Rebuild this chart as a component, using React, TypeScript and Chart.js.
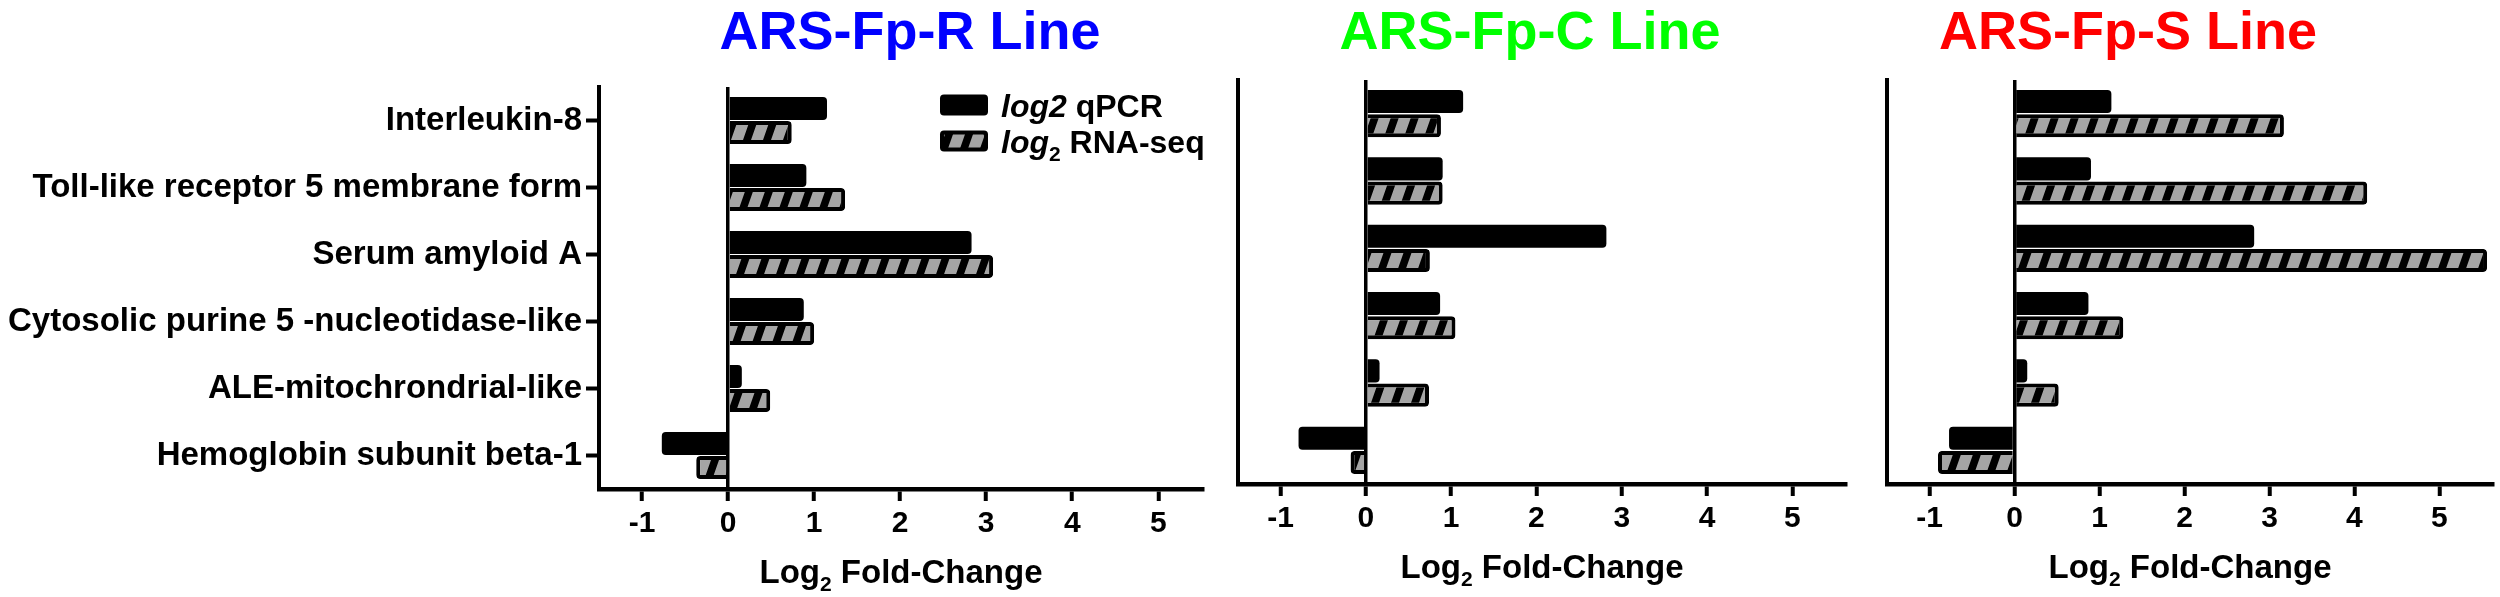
import React, { useEffect, useRef } from "react";
import { Chart, registerables } from "chart.js";

Chart.register(...registerables);

// ---------------- data ----------------
const categories = [
  "Interleukin-8",
  "Toll-like receptor 5 membrane form",
  "Serum amyloid A",
  "Cytosolic purine 5 -nucleotidase-like",
  "ALE-mitochrondrial-like",
  "Hemoglobin subunit beta-1",
];
const seriesNames = ["qPCR", "RNA-seq"];
const panelTitles = ["ARS-Fp-R Line", "ARS-Fp-C Line", "ARS-Fp-S Line"];
const titleColors = ["#0000ff", "#00ff00", "#ff0000"];
const qpcrR = [1.15, 0.91, 2.83, 0.88, 0.16, -0.77];
const qpcrC = [1.14, 0.9, 2.82, 0.87, 0.16, -0.79];
const qpcrS = [1.14, 0.9, 2.82, 0.87, 0.15, -0.77];
const rnaSeqR = [0.74, 1.36, 3.08, 1.0, 0.49, -0.37];
const rnaSeqC = [0.88, 0.9, 0.75, 1.05, 0.74, -0.18];
const rnaSeqS = [3.17, 4.15, 5.56, 1.28, 0.52, -0.9];
const xTickStep = 1;
const xMin = -1.5;

// ---------------- layout / style ----------------
const FONT = "'Liberation Sans', Arial, Helvetica, sans-serif";
const H = 597;

type PanelCfg = {
  left: number;
  width: number;
  areaLeft: number;
  areaRight: number;
  areaTop: number;
  areaBottom: number;
  xMax: number;
  titleX: number;
  labels: boolean;
  legend: boolean;
  qpcr: number[];
  rna: number[];
  idx: number;
};

const PANELS: PanelCfg[] = [
  { left: 0, width: 1220, areaLeft: 599, areaRight: 1203, areaTop: 87, areaBottom: 489, xMax: 5.52, titleX: 910, labels: true, legend: true, qpcr: qpcrR, rna: rnaSeqR, idx: 0 },
  { left: 1220, width: 640, areaLeft: 1238, areaRight: 1846, areaTop: 80, areaBottom: 484, xMax: 5.63, titleX: 1530, labels: false, legend: false, qpcr: qpcrC, rna: rnaSeqC, idx: 1 },
  { left: 1860, width: 640, areaLeft: 1887, areaRight: 2493, areaTop: 80, areaBottom: 484, xMax: 5.63, titleX: 2128, labels: false, legend: false, qpcr: qpcrS, rna: rnaSeqS, idx: 2 },
];

function makeHatch(ctx: CanvasRenderingContext2D): CanvasPattern | string {
  const tile = document.createElement("canvas");
  tile.width = 20;
  tile.height = 20;
  const t = tile.getContext("2d")!;
  t.fillStyle = "#000";
  t.fillRect(0, 0, 20, 20);
  t.fillStyle = "#a5a5a5";
  t.fillRect(0, 0, 12, 20);
  const pat = ctx.createPattern(tile, "repeat");
  if (!pat) return "#a5a5a5";
  try {
    pat.setTransform(new DOMMatrix([1, 0, -0.35, 1, 0, 0]));
  } catch (e) {}
  return pat;
}

type Part = { text: string; font: string; dy?: number };

function drawRich(ctx: CanvasRenderingContext2D, parts: Part[], x: number, baseline: number, align: "left" | "center") {
  let total = 0;
  for (const p of parts) {
    ctx.font = p.font;
    total += ctx.measureText(p.text).width;
  }
  let cx = align === "center" ? x - total / 2 : x;
  ctx.textAlign = "left";
  ctx.textBaseline = "alphabetic";
  for (const p of parts) {
    ctx.font = p.font;
    ctx.fillText(p.text, cx, baseline + (p.dy || 0));
    cx += ctx.measureText(p.text).width;
  }
}

const extrasPlugin = {
  id: "panelExtras",
  afterDraw(chart: any) {
    const o = chart.options.plugins.panelExtras;
    if (!o) return;
    const ctx: CanvasRenderingContext2D = chart.ctx;
    const area = chart.chartArea;
    ctx.save();
    // panel title
    ctx.fillStyle = o.titleColor;
    drawRich(ctx, [{ text: o.title, font: `bold 54px ${FONT}` }], o.titleX, 49, "center");
    // axis title
    ctx.fillStyle = "#000";
    drawRich(
      ctx,
      [
        { text: "Log", font: `bold 33px ${FONT}` },
        { text: "2", font: `bold 21px ${FONT}`, dy: 8 },
        { text: " Fold-Change", font: `bold 33px ${FONT}` },
      ],
      (area.left + area.right) / 2,
      area.bottom + 94,
      "center"
    );
    // legend
    if (o.legend) {
      const bx = 940;
      const rows = [105, 141];
      const ds = chart.data.datasets;
      for (let i = 0; i < 2; i++) {
        const cy = rows[i];
        const top = cy - 10.5;
        ctx.beginPath();
        ctx.fillStyle = "#000";
        (ctx as any).roundRect(bx, top, 48, 21, 4);
        ctx.fill();
        if (i === 1) {
          ctx.beginPath();
          ctx.fillStyle = ds[1].backgroundColor;
          (ctx as any).roundRect(bx + 4, top + 4, 40, 13, 1);
          ctx.fill();
        }
        ctx.fillStyle = "#000";
        const parts: Part[] =
          i === 0
            ? [
                { text: "log2", font: `italic bold 32px ${FONT}` },
                { text: " " + seriesNames[0], font: `bold 32px ${FONT}` },
              ]
            : [
                { text: "log", font: `italic bold 32px ${FONT}` },
                { text: "2", font: `bold 21px ${FONT}`, dy: 8 },
                { text: " " + seriesNames[1], font: `bold 32px ${FONT}` },
              ];
        drawRich(ctx, parts, 1001, cy + 11.5, "left");
      }
    }
    ctx.restore();
  },
};

function Panel({ cfg }: { cfg: PanelCfg }) {
  const ref = useRef<HTMLCanvasElement | null>(null);
  useEffect(() => {
    const canvas = ref.current!;
    const ctx = canvas.getContext("2d")!;
    const hatch = makeHatch(ctx);
    const yWidth = cfg.areaLeft - cfg.left;
    const padRight = cfg.left + cfg.width - cfg.areaRight;
    const xHeight = H - cfg.areaBottom;
    const chart = new Chart(canvas, {
      type: "bar",
      data: {
        labels: categories,
        datasets: [
          {
            label: "log2 " + seriesNames[0],
            data: cfg.qpcr,
            backgroundColor: "#000",
            borderColor: "#000",
            borderWidth: 0,
            borderRadius: 4,
            categoryPercentage: 0.72,
            barPercentage: 0.95,
          },
          {
            label: "log2 " + seriesNames[1],
            data: cfg.rna,
            backgroundColor: hatch as any,
            borderColor: "#000",
            borderWidth: 4,
            borderRadius: 4,
            categoryPercentage: 0.72,
            barPercentage: 0.95,
          },
        ],
      },
      options: {
        animation: false,
        responsive: false,
        devicePixelRatio: 1,
        indexAxis: "y",
        events: [],
        layout: { padding: { top: cfg.areaTop, right: padRight, left: 0, bottom: 0 } },
        plugins: {
          legend: { display: false },
          tooltip: { enabled: false },
          title: { display: false },
          panelExtras: {
            title: panelTitles[cfg.idx],
            titleColor: titleColors[cfg.idx],
            titleX: cfg.titleX - cfg.left,
            legend: cfg.legend,
          },
        } as any,
        scales: {
          y: {
            type: "category",
            offset: true,
            grid: {
              display: true,
              drawOnChartArea: false,
              drawTicks: cfg.labels,
              tickLength: 13,
              tickWidth: 4,
              tickColor: "#000",
              color: "#000",
              offset: false,
            },
            border: { display: true, color: "#000", width: 4 },
            ticks: {
              display: cfg.labels,
              color: "#000",
              font: { family: FONT, size: 33, weight: "bold" },
              padding: 4,
              autoSkip: false,
            },
            afterFit: (s: any) => {
              s.width = yWidth;
            },
          },
          x: {
            type: "linear",
            min: xMin,
            max: cfg.xMax,
            grid: {
              color: (c: any) => (c.tick && c.tick.value === 0 ? "#000" : "rgba(0,0,0,0)"),
              lineWidth: 3.5,
              drawTicks: true,
              tickLength: 12,
              tickWidth: 4,
              tickColor: "#000",
            },
            border: { display: true, color: "#000", width: 4.5 },
            ticks: {
              stepSize: xTickStep,
              includeBounds: false,
              color: "#000",
              font: { family: FONT, size: 30, weight: "bold" },
              padding: 5,
              maxRotation: 0,
              autoSkip: false,
              callback: (v: any) => String(v),
            },
            afterFit: (s: any) => {
              s.height = xHeight;
            },
          },
        },
      } as any,
      plugins: [extrasPlugin as any],
    });
    return () => chart.destroy();
  }, []);
  return (
    <canvas
      ref={ref}
      width={cfg.width}
      height={H}
      style={{ position: "absolute", left: cfg.left, top: 0, width: cfg.width, height: H }}
    />
  );
}

export default function App() {
  return (
    <div
      style={{
        position: "fixed",
        left: 0,
        top: 0,
        width: 2500,
        height: H,
        background: "#fff",
        overflow: "hidden",
      }}
    >
      {PANELS.map((p) => (
        <Panel key={p.idx} cfg={p} />
      ))}
    </div>
  );
}
